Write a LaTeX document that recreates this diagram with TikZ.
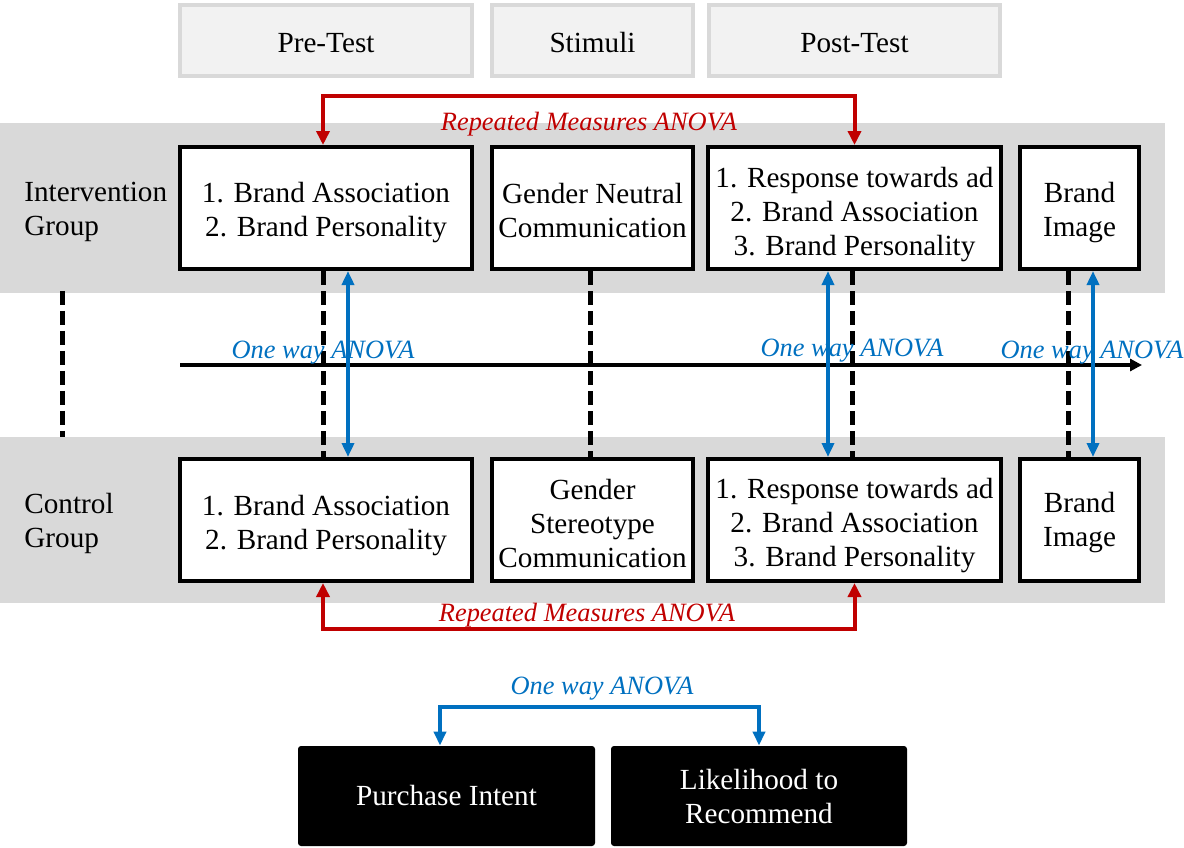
\documentclass[tikz,border=0pt]{standalone}
\usepackage{fontspec}
\setmainfont{Liberation Serif}
\usetikzlibrary{arrows.meta}
\definecolor{bandgray}{HTML}{D9D9D9}
\definecolor{headfill}{HTML}{F2F2F2}
\definecolor{headline}{HTML}{D9D9D9}
\definecolor{anovared}{HTML}{C00000}
\definecolor{anovablue}{HTML}{0070C0}
% taller first line, pushes a box's text a little downwards
\newcommand{\boxstrut}[1]{\rule{0pt}{#1}}
\begin{document}
\begin{tikzpicture}[x=0.5pt,y=-0.5pt,
  every node/.style={font=\fontsize{14.6}{17}\selectfont, inner sep=0pt},
  band/.style={fill=bandgray, draw=none, anchor=north west, minimum width=582.5pt},
  headbox/.style={draw=headline, fill=headfill, line width=2pt, minimum height=35.5pt,
    execute at begin node={\rule{0pt}{12pt}}},
  wbox/.style={draw=black, fill=white, line width=2pt, minimum height=61pt, align=center},
  kbox/.style={fill=black, text=white, rounded corners=1.5pt, minimum height=50pt, align=center},
  grplabel/.style={anchor=west, align=left},
  anova/.style={font=\fontsize{13.2}{15}\selectfont\itshape},
  redlink/.style={draw=anovared, line width=2pt, {Triangle[length=7pt,width=6.5pt]}-{Triangle[length=7pt,width=6.5pt]}},
  bluelink/.style={draw=anovablue, line width=2pt, {Triangle[length=7pt,width=6pt]}-{Triangle[length=7pt,width=6pt]}},
  dashline/.style={draw=black, line width=2.5pt, dash pattern=on 7pt off 3pt},
  axisline/.style={draw=black, line width=2pt, -{Triangle[length=6pt,width=6pt]}}
]
\useasboundingbox (0,0) rectangle (1184,847);

% group bands
\node[band, minimum height=85pt] (bandI) at (0,123) {};
\node[band, minimum height=83pt] (bandC) at (0,437) {};

% phase headers
\node[headbox, minimum width=146pt] (hpre) at (326,40.5) {Pre-Test};
\node[headbox, minimum width=100.5pt] (hsti) at (592.5,40.5) {Stimuli};
\node[headbox, minimum width=145.5pt] (hpost) at (854.5,40.5) {Post-Test};

% time axis
\coordinate (axisL) at (180,365);
\coordinate (axisR) at (1142,365);
\draw[axisline] (axisL) -- (axisR);

% group labels
\node[grplabel] (gI) at (24,212) {Intervention\\Group};
\node[grplabel] (gC) at (24,523) {Control\\Group};

% intervention group
\node[wbox, minimum width=146pt] (i1) at (326,208) {\boxstrut{15pt}1. Brand Association\\2. Brand Personality};
\node[wbox, minimum width=100.5pt] (i2) at (592.5,208) {\boxstrut{13pt}Gender Neutral\\Communication};
\node[wbox, minimum width=146.5pt] (i3) at (854.5,208) {\boxstrut{17pt}1. Response towards ad\\2. Brand Association\\3. Brand Personality};
\node[wbox, minimum width=59.5pt] (i4) at (1079.5,208) {\boxstrut{15pt}Brand\\Image};

% control group
\node[wbox, minimum width=146pt] (c1) at (326,520) {\boxstrut{16pt}1. Brand Association\\2. Brand Personality};
\node[wbox, minimum width=100.5pt] (c2) at (592.5,520) {\boxstrut{13.5pt}Gender\\Stereotype\\Communication};
\node[wbox, minimum width=146.5pt] (c3) at (854.5,520) {\boxstrut{16pt}1. Response towards ad\\2. Brand Association\\3. Brand Personality};
\node[wbox, minimum width=59.5pt] (c4) at (1079.5,520) {\boxstrut{13pt}Brand\\Image};

% dashed links between the groups
\coordinate (lx) at (62,0);
\draw[dashline] ([yshift=1.5pt]bandI.south -| lx) -- (bandC.north -| lx);
\draw[dashline] ([xshift=-1.5pt]i1.south) -- ([xshift=-1.5pt]c1.north);
\draw[dashline] ([xshift=-1.25pt]i2.south) -- ([xshift=-1.25pt]c2.north);
\draw[dashline] ([xshift=-1.25pt]i3.south) -- ([xshift=-1.25pt]c3.north);
\draw[dashline] ([xshift=-5.75pt]i4.south) -- ([xshift=-5.75pt]c4.north);

% one way ANOVA between groups
\draw[bluelink] ([xshift=11pt]i1.south) -- ([xshift=11pt]c1.north);
\draw[bluelink] ([xshift=-13.25pt]i3.south) -- ([xshift=-13.25pt]c3.north);
\draw[bluelink] ([xshift=6.75pt]i4.south) -- ([xshift=6.75pt]c4.north);
\node[anova, text=anovablue] (ow1) at (323,353) {One way ANOVA};
\node[anova, text=anovablue] (ow2) at (852,351) {One way ANOVA};
\node[anova, text=anovablue] (ow3) at (1092,353) {One way ANOVA};

% repeated measures within groups
\draw[redlink] ([xshift=-1.5pt]i1.north) -- ++(0,-49) -| (i3.north);
\node[anova, text=anovared] (rmI) at (589,124) {Repeated Measures ANOVA};
\draw[redlink] ([xshift=-1.5pt]c1.south) -- ++(0,46) -| (c3.south);
\node[anova, text=anovared] (rmC) at (587,615) {Repeated Measures ANOVA};

% outcome measures
\node[kbox, minimum width=148.5pt] (pi) at (446.5,796) {Purchase Intent};
\node[kbox, minimum width=148pt] (lr) at (759,796) {Likelihood to\\Recommend};
\draw[bluelink] ([xshift=-3.25pt]pi.north) -- ++(0,-38.5) -| (lr.north);
\node[anova, text=anovablue] (ow4) at (602,689) {One way ANOVA};
\end{tikzpicture}
\end{document}
